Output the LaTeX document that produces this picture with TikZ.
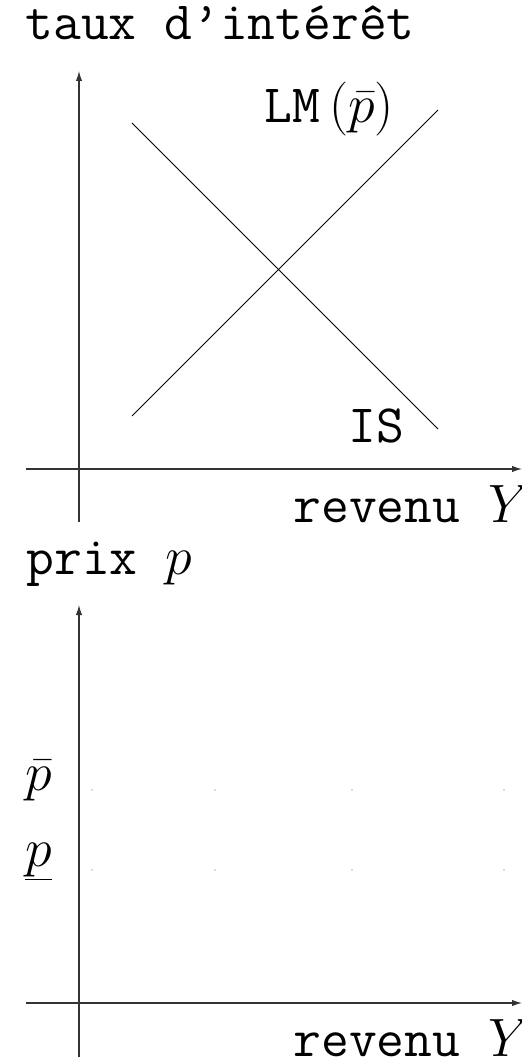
\RequirePackage{fix-cm}
\documentclass[tikz,border=0pt]{standalone}
\usepackage{tikz}
\usetikzlibrary{arrows.meta}

\begin{document}
\begin{tikzpicture}[x=0.5pt,y=-0.5pt,
  axe/.style={-{Latex[length=5pt,width=3.2pt]}, line width=0.6pt, black!80},
  courbe/.style={line width=0.5pt},
  lab/.style={inner sep=0pt, font=\fontsize{27}{32}\selectfont\ttfamily},
  pt/.style={black!60}]
\useasboundingbox (0,0) rectangle (522,1058);
% marche des biens et de la monnaie
\coordinate (hx0) at (26,469); \coordinate (hx1) at (522,469);
\coordinate (hy0) at (79,522); \coordinate (hy1) at (79,71);
\draw[axe] (hx0) -- (hx1);
\draw[axe] (hy0) -- (hy1);
\coordinate (is0) at (132,123); \coordinate (is1) at (438,429);
\coordinate (lm0) at (132,416); \coordinate (lm1) at (438,110);
\draw[courbe] (is0) -- (is1);
\draw[courbe] (lm0) -- (lm1);
\node[lab, anchor=base west] (taux) at (25,40) {taux d\textquoteright intérêt};
\node[lab, anchor=base west] (lm) at (264,123) {LM$\,\bigl(\bar{p}\bigr)$};
\node[lab, anchor=base west] (is) at (348,442) {IS};
\node[lab, anchor=base west] (revhaut) at (293,522) {revenu $Y$};
% prix
\coordinate (bx0) at (26,1003); \coordinate (bx1) at (522,1003);
\coordinate (by0) at (79,1057); \coordinate (by1) at (79,605);
\draw[axe] (bx0) -- (bx1);
\draw[axe] (by0) -- (by1);
\node[lab, anchor=base west] (prix) at (26,574) {prix $p$};
\node[lab, anchor=base west] (pbar) at (25,790) {$\bar{p}$};
\node[lab, anchor=base west] (pbas) at (25,866) {$\underline{p}$};
\node[lab, anchor=base west] (revbas) at (293,1056) {revenu $Y$};
\foreach \x in {92,215,352,504} {
  \fill[pt] (\x,790) circle (0.7);
  \fill[pt] (\x,870) circle (0.7);
}
\end{tikzpicture}
\end{document}
